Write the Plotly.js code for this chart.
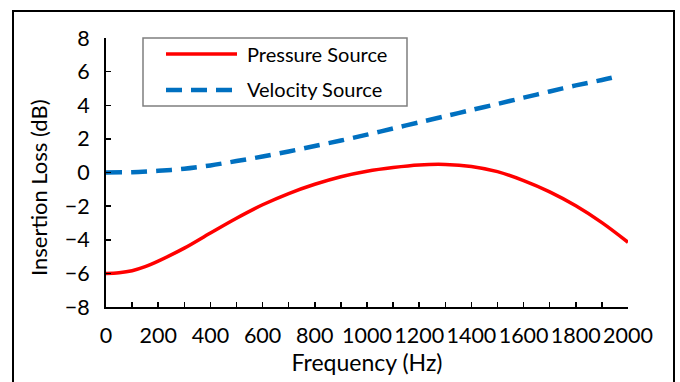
<!DOCTYPE html>
<html>
<head>
<meta charset="utf-8">
<script src="https://cdn.plot.ly/plotly-3.0.1.min.js"></script>
<style>
  html, body { margin: 0; padding: 0; background: #fff; }
  #chart { width: 680px; height: 382px; }
</style>
</head>
<body>
<div id="chart"></div>
<script>
// Data
const pressureFreq = [0, 50, 100, 150, 200, 300, 400, 500, 600, 700, 800, 900, 1000, 1100, 1200, 1300, 1400, 1500, 1600, 1700, 1800, 1900, 2000];
const pressureIL   = [-6.0, -5.96, -5.84, -5.6, -5.27, -4.5, -3.6, -2.72, -1.92, -1.25, -0.7, -0.25, 0.08, 0.3, 0.45, 0.48, 0.36, 0.05, -0.48, -1.15, -1.98, -2.98, -4.15];
const velocityFreq = [0, 100, 200, 300, 400, 500, 600, 700, 800, 900, 1000, 1100, 1200, 1300, 1400, 1500, 1600, 1700, 1800, 1900, 1950];
const velocityIL   = [0.0, 0.02, 0.1, 0.22, 0.42, 0.68, 0.95, 1.25, 1.58, 1.9, 2.25, 2.62, 2.98, 3.35, 3.72, 4.08, 4.45, 4.82, 5.18, 5.5, 5.68];
const seriesNames = ["Pressure Source", "Velocity Source"];
const xTitle = "Frequency (Hz)";
const yTitle = "Insertion Loss (dB)";

const FONT = "Lato, 'Open Sans', sans-serif";
const RED = "#FF0000";
const BLUE = "#0070C0";

const traces = [
  { x: pressureFreq, y: pressureIL, name: seriesNames[0], type: "scatter", mode: "lines",
    line: { color: RED, width: 3.5, shape: "spline", smoothing: 1 }, showlegend: false },
  { x: velocityFreq, y: velocityIL, name: seriesNames[1], type: "scatter", mode: "lines",
    line: { color: BLUE, width: 4.5, dash: "16px,9px", shape: "spline", smoothing: 0.8 }, showlegend: false }
];

// layout geometry (plot area 106..628 x 38..307)
const W = 680, H = 382, L = 106, R = 52, T = 38, B = 75;
const pw = W - L - R, ph = H - T - B;
const px = v => (v - L) / pw;
const py = v => (H - B - v) / ph;

const layout = {
  width: W, height: H,
  margin: { l: L, r: R, t: T, b: B, pad: 0 },
  paper_bgcolor: "#fff", plot_bgcolor: "#fff",
  font: { family: FONT, color: "#000", size: 21 },
  showlegend: false,
  xaxis: {
    range: [0, 2000], dtick: 200, tick0: 0,
    ticks: "inside", ticklen: 5, tickwidth: 1.5, tickcolor: "#000",
    minor: { dtick: 100, ticks: "inside", ticklen: 5, tickwidth: 1.5, tickcolor: "#000", showgrid: false },
    showline: true, linewidth: 2, linecolor: "#000",
    showgrid: false, zeroline: false,
    tickfont: { family: FONT, size: 21.5, color: "#000" },
    ticklabelstandoff: 8,
    title: { text: xTitle, font: { family: FONT, size: 23, color: "#000" }, standoff: 6 },
    fixedrange: true
  },
  yaxis: {
    range: [-8, 8], dtick: 2, tick0: 0,
    ticks: "inside", ticklen: 5, tickwidth: 1.5, tickcolor: "#000",
    showline: true, linewidth: 2, linecolor: "#000",
    showgrid: false, zeroline: false,
    tickfont: { family: FONT, size: 21.5, color: "#000" },
    ticklabelstandoff: 10,
    fixedrange: true
  },
  shapes: [
    // outer frame
    { type: "rect", xref: "paper", yref: "paper", x0: px(13), x1: px(674), y0: py(400), y1: py(11),
      line: { color: "#000", width: 2 }, fillcolor: "rgba(0,0,0,0)" },
    // legend box
    { type: "rect", xref: "paper", yref: "paper", x0: px(143), x1: px(407), y0: py(106), y1: py(38),
      line: { color: "#7f7f7f", width: 1.5 }, fillcolor: "#fff", layer: "below" },
    // legend samples
    { type: "line", xref: "paper", yref: "paper", x0: px(166), x1: px(237), y0: py(54), y1: py(54),
      line: { color: RED, width: 3.5 } },
    { type: "line", xref: "paper", yref: "paper", x0: px(166), x1: px(237), y0: py(90), y1: py(90),
      line: { color: BLUE, width: 4.5, dash: "16px,9px" } }
  ],
  annotations: [
    { text: seriesNames[0], xref: "paper", yref: "paper", x: px(245), y: py(54), xanchor: "left", yanchor: "middle",
      showarrow: false, font: { family: FONT, size: 20, color: "#000" } },
    { text: seriesNames[1], xref: "paper", yref: "paper", x: px(245), y: py(89), xanchor: "left", yanchor: "middle",
      showarrow: false, font: { family: FONT, size: 20, color: "#000" } },
    { text: yTitle, xref: "paper", yref: "paper", x: px(38), y: py(188), xanchor: "center", yanchor: "middle",
      textangle: -90, showarrow: false, font: { family: FONT, size: 22, color: "#000" } }
  ]
};

Plotly.newPlot("chart", traces, layout, { staticPlot: true, displayModeBar: false });
</script>
</body>
</html>
